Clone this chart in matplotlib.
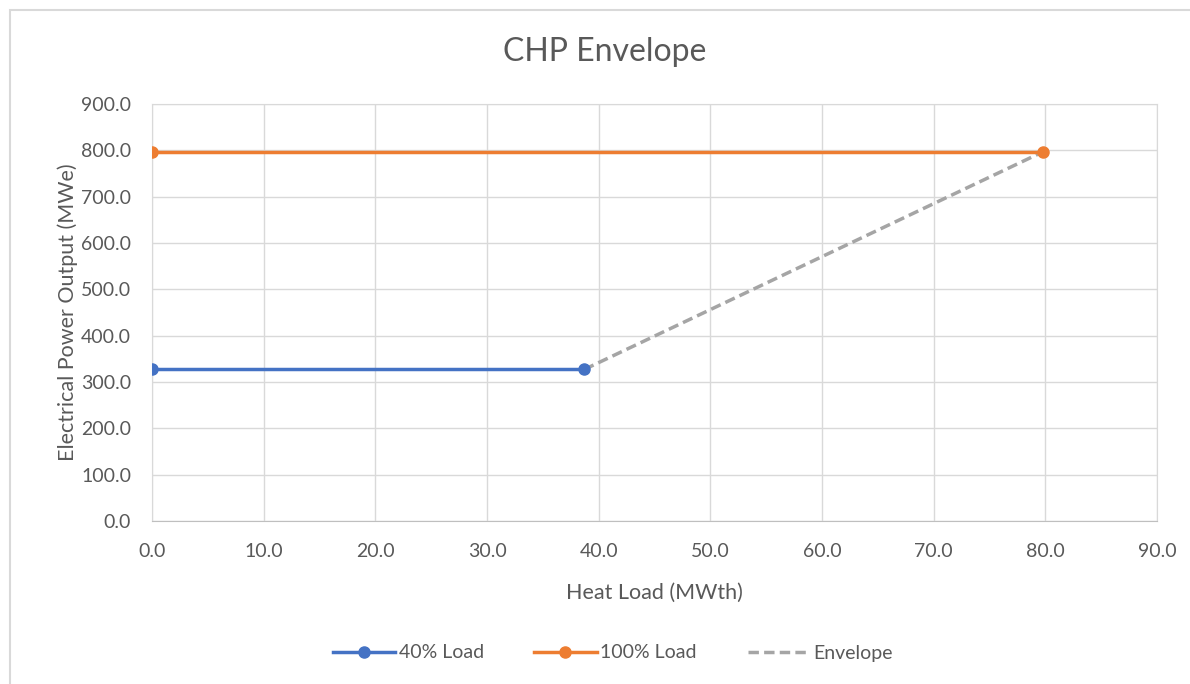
import matplotlib.pyplot as plt
from matplotlib.patches import Rectangle

plt.rcParams['font.family'] = ['Lato', 'DejaVu Sans']

# data
load40_x = [0.0, 38.7]
load40_y = [327.0, 327.0]
load100_x = [0.0, 79.8]
load100_y = [797.0, 797.0]
env_x = [38.7, 79.8]
env_y = [327.0, 797.0]

x_ticks = [0, 10, 20, 30, 40, 50, 60, 70, 80, 90]
y_ticks = [0, 100, 200, 300, 400, 500, 600, 700, 800, 900]

txt = '#595959'
grid = '#d9d9d9'

fig = plt.figure(figsize=(11.9, 6.84), dpi=100)
fig.patches.append(Rectangle((10 / 1190, -0.1), 1.2, 1 - 10 / 684 + 0.1,
                             transform=fig.transFigure, fill=False,
                             edgecolor='#d9d9d9', linewidth=1.5))
ax = fig.add_axes([152 / 1190, 1 - 521 / 684, (1157 - 152) / 1190, (521 - 104) / 684])

ax.plot(load40_x, load40_y, color='#4472c4', lw=2.5, marker='o', ms=8,
        label='40% Load', zorder=4)
ax.plot(load100_x, load100_y, color='#ed7d31', lw=2.5, marker='o', ms=8,
        label='100% Load', zorder=4)
ax.plot(env_x, env_y, color='#a5a5a5', lw=2.5, ls=(0, (3, 1.5)),
        label='Envelope', zorder=3)

ax.set_xlim(0, 90)
ax.set_ylim(0, 900)
ax.set_xticks(x_ticks)
ax.set_yticks(y_ticks)
ax.set_xticklabels([f'{v:.1f}' for v in x_ticks])
ax.set_yticklabels([f'{v:.1f}' for v in y_ticks])
ax.tick_params(colors=txt, labelsize=14, length=0)
ax.tick_params(axis='x', pad=16)
ax.tick_params(axis='y', pad=15)
ax.grid(True, color=grid, lw=1)
ax.set_axisbelow(True)
for s in ax.spines.values():
    s.set_color(grid)
ax.spines['bottom'].set_color('#bfbfbf')

# title is centred on the whole chart area, not on the plot area
fig.text(605 / 1190, 1 - 52 / 684, 'CHP Envelope', color=txt, fontsize=23,
         ha='center', va='center')
ax.set_xlabel('Heat Load (MWth)', color=txt, fontsize=15.5, labelpad=16)
ax.set_ylabel('Electrical Power Output (MWe)', color=txt, fontsize=15.5, labelpad=2)

leg = fig.legend(loc='center', bbox_to_anchor=(0.515, 1 - 653 / 684), ncol=3,
                 frameon=False, fontsize=14, handlelength=3.2,
                 handletextpad=0.2, columnspacing=2.6)
for t in leg.get_texts():
    t.set_color(txt)

fig.savefig('out.png', dpi=100)
